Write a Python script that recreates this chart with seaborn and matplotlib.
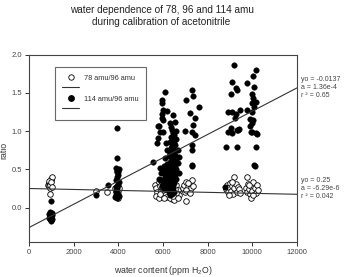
import numpy as np
import pandas as pd
import seaborn as sns
import matplotlib.pyplot as plt
from matplotlib.lines import Line2D

# 114 amu / 96 amu (filled circles)
filled_x = [900, 920, 940, 960, 980, 1000, 1020, 900, 950, 1000, 1040, 930, 970, 1010, 960, 990,
            2990, 3550,
            3850, 3900, 3950, 4000, 4050, 3880, 3920, 3970, 4020, 3900, 3950, 4000, 3980, 3930, 4030, 3880,
            3950, 3940, 3930, 3900,
            6090, 7290, 7330, 7030, 5940, 5960, 7590, 6170, 5940, 7210, 6450, 6000, 7440, 5790, 7360, 6000,
            6990, 7290, 7440,
            5720, 7290, 7290, 7290, 5560, 7290,
            6300, 6350, 6400, 6450, 6500, 6350, 6400, 6450, 6300, 6500, 6550, 6400, 6350, 6450, 6500, 6300,
            6400, 6550, 6250, 6350, 6450, 6500, 6600, 6300, 6400, 6200, 6550, 6350, 6450, 6250, 6600, 6150,
            6350, 6500, 6300, 6400, 6200, 6550, 6100, 6350, 6450, 6250, 6050, 6600, 6150, 6400, 6300, 6000,
            6500, 6200, 6100, 6350, 5950, 6250, 6450, 6150, 6050, 6350, 6250, 6500, 6400, 6300,
            6600, 6650, 6700, 6600, 6550, 6650, 6700, 6200, 6100, 6050, 6150, 5850, 5900, 6000, 5800, 5900,
            5780, 5800, 5870, 5960, 6000,
            9180, 10170, 10040, 9080, 9780, 9270, 9300, 10080, 9040, 10000, 10040, 10000, 10170, 10080,
            8930, 9080, 9450, 9270, 9230, 9780, 10000, 9890, 10040, 10000, 9040, 9300, 9420, 9890, 10000,
            10150, 8930, 9080, 9380, 9930, 10200, 8830, 9330, 10170, 10080, 10120, 8780]
filled_y = [-0.08, -0.10, -0.12, -0.14, -0.16, -0.17, -0.15, -0.13, -0.09, -0.11, -0.07, -0.15, -0.13,
            -0.10, -0.06, 0.09,
            0.17, 0.29,
            0.14, 0.16, 0.13, 0.18, 0.15, 0.22, 0.25, 0.30, 0.33, 0.36, 0.40, 0.43, 0.46, 0.48, 0.50, 0.52,
            0.47, 0.65, 1.04, 0.27,
            1.51, 1.54, 1.46, 1.41, 1.40, 1.37, 1.32, 1.26, 1.22, 1.23, 1.21, 1.14, 1.17, 1.06, 1.08, 0.99,
            1.00, 0.99, 0.95,
            0.84, 0.82, 0.75, 0.56, 0.60, 0.54,
            1.10, 1.05, 1.02, 0.98, 0.95, 0.92, 0.90, 0.88, 0.86, 0.84, 0.82, 0.80, 0.78, 0.76, 0.74, 0.72,
            0.70, 0.69, 0.68, 0.66, 0.64, 0.62, 0.61, 0.60, 0.58, 0.57, 0.56, 0.55, 0.53, 0.52, 0.51, 0.50,
            0.49, 0.48, 0.46, 0.45, 0.44, 0.43, 0.42, 0.41, 0.40, 0.39, 0.38, 0.37, 0.36, 0.35, 0.34, 0.33,
            0.32, 0.31, 0.30, 0.29, 0.28, 0.27, 0.26, 0.25, 0.24, 0.23, 0.21, 0.20, 0.18, 0.16,
            0.90, 0.75, 0.66, 1.00, 1.12, 0.58, 0.45, 0.75, 0.65, 0.55, 0.85, 0.52, 0.45, 0.48, 0.38, 0.36,
            0.91, 1.06, 0.99, 1.17, 1.27,
            1.86, 1.80, 1.72, 1.64, 1.63, 1.56, 1.53, 1.58, 1.49, 1.48, 1.43, 1.37, 1.38, 1.32,
            1.25, 1.25, 1.28, 1.22, 1.17, 1.27, 1.25, 1.16, 1.14, 1.10, 1.04, 1.01, 1.03, 1.06, 0.99,
            0.98, 0.99, 0.97, 1.01, 0.99, 0.96, 0.79, 0.79, 0.79, 0.56, 0.55, 0.27]

# 78 amu / 96 amu (open circles)
open_x = [850, 900, 950, 1000, 880, 930, 980, 1020, 900, 960, 1000, 950, 1050,
          2990, 3500, 3850, 3900, 3950, 4000, 3880, 3930, 4020, 3970,
          5650, 5700, 5750, 5800, 5850, 5900, 5950, 6000, 6050, 6100, 6150, 5700, 5800, 5900, 6000, 6100,
          5850, 5950, 6050, 6150,
          6250, 6300, 6350, 6400, 6450, 6500, 6550, 6600, 6650, 6700, 6300, 6400, 6500, 6600, 6350, 6450,
          6550, 6650,
          6900, 6950, 7000, 7050, 7100, 7150, 7200, 7250, 7300, 7350, 7050, 7200, 7100, 7030,
          8800, 8850, 8900, 8950, 9000, 9050, 9100, 9150, 9200, 9250, 9300, 9350, 9400, 9450, 8950, 9180,
          9100,
          9700, 9750, 9800, 9850, 9900, 9950, 10000, 10050, 10100, 10150, 10200, 10250, 9780, 9950, 10050,
          9850]
open_y = [0.30, 0.32, 0.34, 0.36, 0.28, 0.26, 0.38, 0.40, 0.35, 0.30, 0.33, 0.18, 0.27,
          0.22, 0.21, 0.25, 0.20, 0.18, 0.22, 0.15, 0.28, 0.26, 0.13,
          0.30, 0.25, 0.20, 0.33, 0.28, 0.22, 0.17, 0.31, 0.26, 0.19, 0.14, 0.15, 0.12, 0.35, 0.23, 0.29,
          0.18, 0.27, 0.13, 0.24,
          0.28, 0.22, 0.16, 0.11, 0.26, 0.20, 0.14, 0.29, 0.23, 0.17, 0.12, 0.30, 0.10, 0.19, 0.25, 0.15,
          0.24, 0.13,
          0.25, 0.30, 0.20, 0.34, 0.27, 0.22, 0.31, 0.25, 0.36, 0.28, 0.23, 0.19, 0.32, 0.09,
          0.24, 0.30, 0.20, 0.27, 0.32, 0.22, 0.28, 0.18, 0.25, 0.31, 0.21, 0.27, 0.24, 0.19, 0.17, 0.40,
          0.33,
          0.26, 0.20, 0.31, 0.24, 0.18, 0.28, 0.22, 0.33, 0.26, 0.19, 0.29, 0.23, 0.40, 0.12, 0.16,
          0.30]

# fitted lines (intercept, slope) as drawn
fit_filled = (-0.26, 1.52e-4)
fit_open = (0.25, -6.29e-6)
fit_x = [0, 12000]

sns.set_style("ticks")
plt.rcParams['font.family'] = ['Liberation Sans', 'DejaVu Sans']
plt.rcParams['mathtext.default'] = 'regular'

fig = plt.figure(figsize=(3.46, 2.77), dpi=100)
ax = fig.add_axes([0.0838, 0.1274, 0.7746, 0.6758])

df_f = pd.DataFrame({'x': filled_x, 'y': filled_y})
df_o = pd.DataFrame({'x': open_x, 'y': open_y})

sns.scatterplot(data=df_o, x='x', y='y', ax=ax, s=16, color='white',
                edgecolor='black', linewidth=0.6, zorder=3)
sns.scatterplot(data=df_f, x='x', y='y', ax=ax, s=16, color='black',
                edgecolor='black', linewidth=0.3, zorder=4)

for b0, b1 in [fit_filled, fit_open]:
    ax.plot(fit_x, [b0 + b1 * v for v in fit_x], color='#333333', lw=0.8, zorder=5)

ax.set_xlim(0, 12000)
ax.set_ylim(-0.445, 2.0)
ax.set_xticks([0, 2000, 4000, 6000, 8000, 10000, 12000])
ax.set_yticks([0.0, 0.5, 1.0, 1.5, 2.0])
ax.set_yticklabels(['0.0', '0.5', '1.0', '1.5', '2.0'])
ax.tick_params(labelsize=5.5, length=3, width=0.7, pad=2, colors='#333333', labelcolor='#444444')
for sp in ax.spines.values():
    sp.set_linewidth(0.8)
    sp.set_color('#444444')

ax.set_xlabel('water content (ppm H$_2$O)', fontsize=6.3, color='#333333')
ax.xaxis.set_label_coords(0.5, -0.118)
ax.set_ylabel('ratio', fontsize=6.3, color='#333333')
ax.yaxis.set_label_coords(-0.078, 0.49)

fig.text(0.467, 0.942, 'water dependence of 78, 96 and 114 amu\nduring calibration of acetonitrile',
         ha='center', va='center', fontsize=7.2, color='#222222', linespacing=1.35)

ax.text(1.015, 0.885, 'yo = -0.0137\na = 1.36e-4\nr ² = 0.65', transform=ax.transAxes,
        fontsize=5, color='#444444', va='top', ha='left', linespacing=1.2)
ax.text(1.015, 0.345, 'yo = 0.25\na = -6.29e-6\nr ² = 0.042', transform=ax.transAxes,
        fontsize=5, color='#444444', va='top', ha='left', linespacing=1.2)

handles = [Line2D([], [], ls='', marker='o', ms=3.9, mfc='white', mec='black', mew=0.6),
           Line2D([], [], color='#333333', lw=0.8),
           Line2D([], [], ls='', marker='o', ms=3.9, mfc='black', mec='black'),
           Line2D([], [], color='#333333', lw=0.8)]
labels = ['78 amu/96 amu', '', '114 amu/96 amu', '']
leg = ax.legend(handles, labels, loc='upper left', bbox_to_anchor=(0.097, 0.933),
                borderaxespad=0, fontsize=5.3, frameon=True, fancybox=False,
                handlelength=2.3, handletextpad=0.65, labelspacing=0.45, borderpad=1.0)
leg.get_frame().set_edgecolor('#444444')
leg.get_frame().set_linewidth(0.8)
for t in leg.get_texts():
    t.set_color('#333333')

fig.savefig('out.png', dpi=100)
